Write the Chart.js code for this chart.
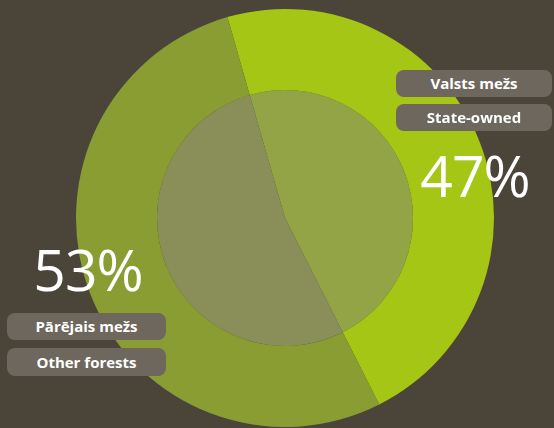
<!DOCTYPE html>
<html>
<head>
<meta charset="utf-8">
<script src="https://cdn.jsdelivr.net/npm/chart.js@4"></script>
<style>
  html, body { margin: 0; padding: 0; background: #4b4539; }
  #wrap { position: relative; width: 554px; height: 428px; overflow: hidden; }
  #myPieChart { position: absolute; left: 0; top: 0; }
  .pct { position: absolute; color: #fff; font-family: "Open Sans", sans-serif; font-size: 57px; line-height: 57px; text-align: center; letter-spacing: -1px; }
  .tag { position: absolute; background: #6e675e; color: #fff; font-family: "Open Sans", sans-serif; font-weight: bold; font-size: 15px; border-radius: 8px; text-align: center; }
</style>
</head>
<body>
<div id="wrap">
  <canvas id="myPieChart" width="554" height="428"></canvas>
</div>
<script>
let shares = [47, 53];
let pctLabels = ['47%', '53%'];
let namesLv = ['Valsts mežs', 'Pārējais mežs'];
let namesEn = ['State-owned', 'Other forests'];

let outerColors = ['#a5c614', '#8a9d33'];
let innerColors = ['#93a447', '#8a8f5a'];

const pieCtx = document.getElementById('myPieChart').getContext('2d');
new Chart(pieCtx, {
  type: 'pie',
  data: {
    labels: namesEn,
    datasets: [{
      data: shares,
      backgroundColor: outerColors,
      borderWidth: 0,
      weight: 81
    }, {
      data: shares,
      backgroundColor: innerColors,
      borderWidth: 0,
      weight: 128
    }]
  },
  options: {
    responsive: false,
    animation: false,
    rotation: -16,
    radius: 209,
    layout: { padding: { left: 16, right: 0, top: 8, bottom: 0 } },
    plugins: { legend: { display: false }, tooltip: { enabled: false } }
  }
});

// labels on top of the canvas
let wrap = document.getElementById('wrap');
function addDiv(cls, txt, l, t, w, h) {
  let d = document.createElement('div');
  d.className = cls;
  d.textContent = txt;
  d.style.left = l + 'px';
  d.style.top = t + 'px';
  d.style.width = w + 'px';
  if (h) { d.style.height = h + 'px'; d.style.lineHeight = h + 'px'; }
  wrap.appendChild(d);
}
addDiv('tag', namesLv[0], 396, 70, 156, 27);
addDiv('tag', namesEn[0], 396, 104, 156, 27);
addDiv('pct', pctLabels[0], 405, 147, 140);
addDiv('pct', pctLabels[1], 18, 241, 140);
addDiv('tag', namesLv[1], 7, 313, 159, 27);
addDiv('tag', namesEn[1], 7, 348, 159, 28);
</script>
</body>
</html>
